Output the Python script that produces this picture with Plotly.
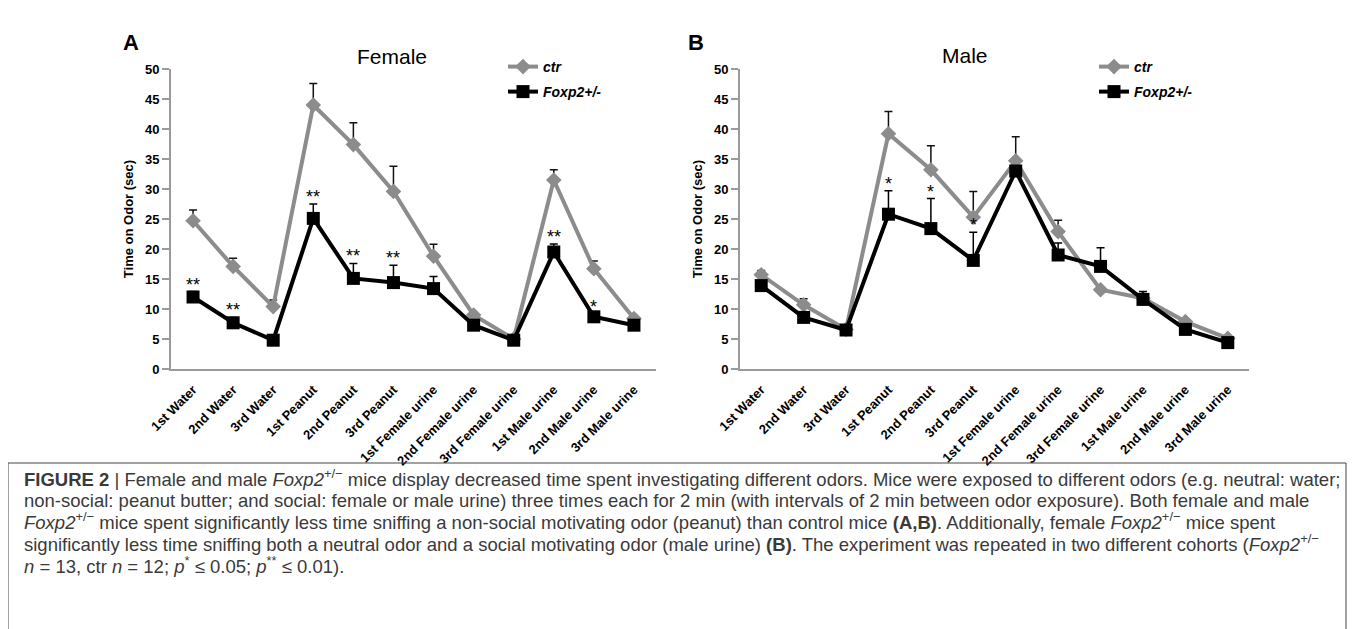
import plotly.graph_objects as go

W, H = 1356, 629
OX, OY = 8, 8  # page body margin compensation

categories = ["1st Water", "2nd Water", "3rd Water", "1st Peanut", "2nd Peanut", "3rd Peanut",
              "1st Female urine", "2nd Female urine", "3rd Female urine",
              "1st Male urine", "2nd Male urine", "3rd Male urine"]
y_ticks = [0, 5, 10, 15, 20, 25, 30, 35, 40, 45, 50]

# Panel A - Female
female_ctr = [24.7, 17.1, 10.4, 44.0, 37.4, 29.6, 18.8, 9.0, 5.0, 31.5, 16.7, 8.4]
female_ctr_err = [1.8, 1.35, 1.1, 3.6, 3.65, 4.2, 2.0, 0.4, 0.3, 1.7, 1.3, 0.3]
female_foxp2 = [12.0, 7.7, 4.8, 25.1, 15.1, 14.4, 13.4, 7.3, 4.8, 19.5, 8.7, 7.3]
female_foxp2_err = [0.9, 0.9, 0.4, 2.4, 2.5, 2.9, 2.0, 0.5, 0.3, 1.35, 0.5, 0.4]
female_stars = ["**", "**", "", "**", "**", "**", "", "", "", "**", "*", ""]

# Panel B - Male
male_ctr = [15.7, 10.7, 6.6, 39.2, 33.2, 25.3, 34.7, 22.9, 13.2, 11.8, 7.9, 5.1]
male_ctr_err = [0.7, 1.0, 0.3, 3.7, 4.0, 4.3, 4.0, 1.9, 0.2, 0.7, 0.4, 0.3]
male_foxp2 = [13.9, 8.6, 6.5, 25.8, 23.4, 18.1, 33.0, 19.0, 17.1, 11.6, 6.6, 4.4]
male_foxp2_err = [0.4, 0.4, 0.3, 3.9, 5.0, 4.7, 0.3, 2.0, 3.1, 1.3, 0.4, 0.3]
male_stars = ["", "", "", "*", "*", "*", "", "", "", "", "", ""]

series_names = ["ctr", "Foxp2+/-"]

GRAY = "#8c8c8c"
AX = "#9a9a9a"
FONT = "Arial, Liberation Sans, sans-serif"

fig = go.Figure()


def add_panel(xa, ya, ctr, ctr_err, fox, fox_err, legs):
    fig.add_trace(go.Scatter(
        x=categories, y=ctr, xaxis=xa, yaxis=ya, name=series_names[0], legend=legs[0],
        showlegend=True,
        mode="lines+markers", line=dict(color=GRAY, width=4),
        marker=dict(symbol="diamond", size=12, color=GRAY),
        error_y=dict(type="data", symmetric=False, array=ctr_err,
                     arrayminus=[0] * len(ctr_err), color="#111111", thickness=1.5, width=4),
        cliponaxis=False))
    fig.add_trace(go.Scatter(
        x=categories, y=fox, xaxis=xa, yaxis=ya, name=series_names[1], legend=legs[1],
        showlegend=True,
        mode="lines+markers", line=dict(color="black", width=4),
        marker=dict(symbol="square", size=13, color="black"),
        error_y=dict(type="data", symmetric=False, array=fox_err,
                     arrayminus=[0] * len(fox_err), color="black", thickness=1.5, width=4),
        cliponaxis=False))


add_panel("x", "y", female_ctr, female_ctr_err, female_foxp2, female_foxp2_err, ["legend", "legend2"])
add_panel("x2", "y2", male_ctr, male_ctr_err, male_foxp2, male_foxp2_err, ["legend3", "legend4"])


def py(v):
    return (H - (v - OY)) / H


def px(v):
    return (v - OX) / W


y_dom = [py(369), py(69)]
xa_common = dict(type="category", categoryorder="array", categoryarray=categories,
                 showline=True, linecolor=AX, linewidth=2, ticks="", showgrid=False,
                 zeroline=False, tickangle=-45, automargin=False, ticklabelstandoff=6,
                 tickfont=dict(family=FONT, size=13, color="black", weight="bold"))
ya_common = dict(range=[0, 50], tickvals=y_ticks, showline=True, linecolor=AX, linewidth=2,
                 ticks="outside", ticklen=7, tickcolor=AX, tickwidth=1.5, showgrid=False,
                 zeroline=False, automargin=False,
                 tickfont=dict(family=FONT, size=13, color="black", weight="bold"),
                 title=dict(text="Time on Odor (sec)", standoff=8,
                            font=dict(family=FONT, size=13, color="black", weight="bold")))

fig.update_layout(
    width=W, height=H, margin=dict(l=0, r=0, t=0, b=0, autoexpand=False),
    paper_bgcolor="white", plot_bgcolor="white", showlegend=True,
    xaxis=dict(domain=[px(171), px(656)], range=[-0.55, 11.55], anchor="y", **xa_common),
    yaxis=dict(domain=y_dom, anchor="x", **ya_common),
    xaxis2=dict(domain=[px(740), px(1249)], range=[-0.5, 11.5], anchor="y2", **xa_common),
    yaxis2=dict(domain=y_dom, anchor="x2", **ya_common),
)

leg_font = dict(family=FONT, size=14, color="black", weight="bold", style="italic")
leg_pos = {"legend": (503, 67), "legend2": (503, 92), "legend3": (1094, 67), "legend4": (1094, 92)}
for k, (lx, ly) in leg_pos.items():
    fig.update_layout({k: dict(x=px(lx), y=py(ly), xanchor="left", yanchor="middle",
                               font=leg_font, bgcolor="rgba(0,0,0,0)", itemwidth=30,
                               borderwidth=0, visible=True)})

ann = []
# significance stars
for xa, ya, fox, err, stars in [("x", "y", female_foxp2, female_foxp2_err, female_stars),
                                ("x2", "y2", male_foxp2, male_foxp2_err, male_stars)]:
    for c, v, e, s in zip(categories, fox, err, stars):
        if s:
            ann.append(dict(x=c, y=v + e, xref=xa, yref=ya, text=s, showarrow=False,
                            yanchor="bottom", yshift=-5,
                            font=dict(family=FONT, size=18, color="black")))

# panel letters and titles
ann += [
    dict(x=px(121), y=py(42), xref="paper", yref="paper", text="<b>A</b>", showarrow=False,
         xanchor="left", yanchor="middle", font=dict(family=FONT, size=22, color="black")),
    dict(x=px(686), y=py(42), xref="paper", yref="paper", text="<b>B</b>", showarrow=False,
         xanchor="left", yanchor="middle", font=dict(family=FONT, size=22, color="black")),
    dict(x=px(392), y=py(56), xref="paper", yref="paper", text="Female", showarrow=False,
         xanchor="center", yanchor="middle", font=dict(family=FONT, size=21, color="black")),
    dict(x=px(965), y=py(55), xref="paper", yref="paper", text="Male", showarrow=False,
         xanchor="center", yanchor="middle", font=dict(family=FONT, size=21, color="black")),
]

cap_lines = [
    "<b>FIGURE 2</b> | Female and male <i>Foxp2</i><sup>+/−</sup> mice display decreased time spent investigating different odors. Mice were exposed to different odors (e.g. neutral: water;",
    "non-social: peanut butter; and social: female or male urine) three times each for 2 min (with intervals of 2 min between odor exposure). Both female and male",
    "<i>Foxp2</i><sup>+/−</sup> mice spent significantly less time sniffing a non-social motivating odor (peanut) than control mice <b>(A,B)</b>. Additionally, female <i>Foxp2</i><sup>+/−</sup> mice spent",
    "significantly less time sniffing both a neutral odor and a social motivating odor (male urine) <b>(B)</b>. The experiment was repeated in two different cohorts (<i>Foxp2</i><sup>+/−</sup>",
    "<i>n</i> = 13, ctr <i>n</i> = 12; <i>p</i><sup>*</sup> ≤ 0.05; <i>p</i><sup>**</sup> ≤ 0.01).",
]
cap_y = [478, 500, 521, 543, 565]
for t, yy in zip(cap_lines, cap_y):
    ann.append(dict(x=px(22), y=py(yy), xref="paper", yref="paper", text=t, showarrow=False,
                    xanchor="left", yanchor="middle", align="left",
                    font=dict(family="Liberation Sans, Arial, sans-serif",
                              size=18.5, color="#3a3a3a")))

fig.update_layout(annotations=ann)

fig.add_shape(type="line", xref="paper", yref="paper", x0=px(8), x1=px(8), y0=py(463), y1=py(640),
              line=dict(color="#444444", width=1))
fig.add_shape(type="line", xref="paper", yref="paper", x0=px(1346), x1=px(1346), y0=py(463), y1=py(640),
              line=dict(color="#444444", width=1))
fig.add_shape(type="line", xref="paper", yref="paper", x0=px(8), x1=px(1346), y0=py(463), y1=py(463),
              line=dict(color="#444444", width=1))

fig.write_html("out.html")
